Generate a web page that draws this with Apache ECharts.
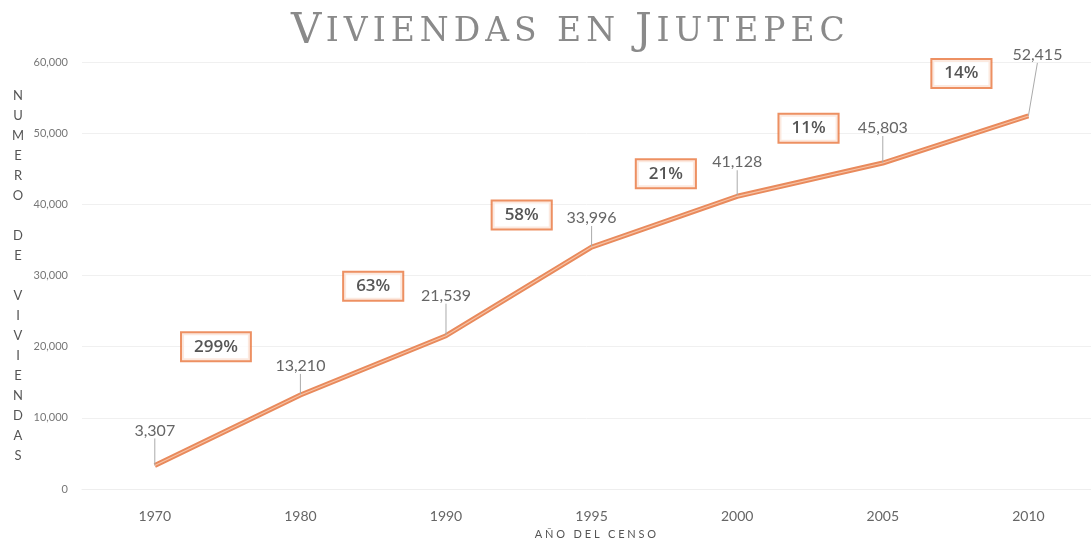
<!DOCTYPE html>
<html>
<head>
<meta charset="utf-8">
<script src="https://cdn.jsdelivr.net/npm/echarts@6/dist/echarts.min.js"></script>
<style>
  html, body { margin: 0; padding: 0; background: #fff; }
  #chart { width: 1091px; height: 545px; }
</style>
</head>
<body>
<div id="chart"></div>
<script>
var years = ['1970', '1980', '1990', '1995', '2000', '2005', '2010'];
var viviendas = [3307, 13210, 21539, 33996, 41128, 45803, 52415];

// growth boxes between censuses
var growthText = ['299%', '63%', '58%', '21%', '11%', '14%'];
var growthPos = [0.42, 1.5, 2.52, 3.51, 4.49, 5.54];
var growthHeight = [20000, 28500, 38500, 44300, 50700, 58400];

var yTicks = [0, 10000, 20000, 30000, 40000, 50000, 60000];

var titleText = 'VIVIENDAS EN JIUTEPEC';

var chart = echarts.init(document.getElementById('chart'));

var labelShift = [[0, -22], [0, -16], [0, -27], [0, -16], [0, -21], [0, -22], [9, -48]];

// small caps look: first letter of each word larger, letters spaced out
var titleRich = titleText.split('').map(function (c, i) {
    var big = (i === 0 || titleText[i - 1] === ' ') && c !== ' ' && c !== 'E';
    return '{' + (big ? 'a' : 'b') + '|' + c + '}';
}).join('');

var option = {
    backgroundColor: '#fff',
    title: {
        text: titleRich,
        left: 284,
        top: 6,
        textStyle: {
            rich: {
                a: { fontFamily: 'DejaVu Serif', fontSize: 42, fontWeight: 'normal', color: '#8a8a8a', padding: [0, 2, 0, 2] },
                b: { fontFamily: 'DejaVu Serif', fontSize: 33, fontWeight: 'normal', color: '#8a8a8a', padding: [0, 2.5, 0, 2.5] }
            }
        }
    },
    grid: { left: 82, right: 0, top: 62, bottom: 50 },
    xAxis: {
        type: 'value',
        min: -0.5,
        max: 6.43,
        name: 'A Ñ O   D E L   C E N S O',
        nameLocation: 'middle',
        nameGap: 40,
        nameTextStyle: { fontFamily: 'Lato', fontSize: 11, color: '#555', padding: [0, 0, 0, 18] },
        axisLine: { show: true, lineStyle: { color: '#eeeeee' } },
        axisTick: { show: false },
        splitLine: { show: false },
        axisLabel: {
            fontFamily: 'Lato', fontSize: 14, color: '#666', margin: 20,
            customValues: [0, 1, 2, 3, 4, 5, 6],
            formatter: function (v) { return years[Math.round(v)]; }
        }
    },
    yAxis: {
        type: 'value',
        min: 0,
        max: 60000,
        interval: 10000,
        name: 'N\nU\nM\nE\nR\nO\n \nD\nE\n \nV\nI\nV\nI\nE\nN\nD\nA\nS',
        nameLocation: 'middle',
        nameRotate: 0,
        nameGap: 64,
        nameTextStyle: { fontFamily: 'Lato', fontSize: 13, color: '#555', lineHeight: 20, align: 'center' },
        axisLine: { show: false },
        axisTick: { show: false },
        axisLabel: {
            fontFamily: 'Lato', fontSize: 11, color: '#777', margin: 14,
            formatter: function (v) { return yTicks.indexOf(v) >= 0 ? v.toLocaleString('en-US') : ''; }
        },
        splitLine: { lineStyle: { color: '#f0f0f0' } }
    },
    series: [
        {
            type: 'line',
            data: viviendas.map(function (v, i) { return [i, v]; }),
            symbol: 'circle',
            symbolSize: 0.1,
            showSymbol: true,
            itemStyle: { color: '#E98A5C' },
            lineStyle: { color: '#E98A5C', width: 5 },
            label: {
                show: true,
                position: 'top',
                fontFamily: 'Lato',
                fontSize: 16,
                color: '#666',
                formatter: function (p) { return p.value[1].toLocaleString('en-US'); }
            },
            labelLine: { show: true, lineStyle: { color: '#aaaaaa', width: 1 } },
            labelLayout: function (p) {
                var s = labelShift[p.dataIndex];
                return { dx: s[0], dy: s[1] };
            },
            z: 2
        },
        {
            type: 'line',
            data: viviendas.map(function (v, i) { return [i, v]; }),
            symbol: 'none',
            silent: true,
            lineStyle: { color: '#F6C3A6', width: 1.2 },
            z: 3
        },
        {
            type: 'scatter',
            symbolSize: 0,
            data: growthText.map(function (t, i) {
                return { name: t, value: [growthPos[i], growthHeight[i]] };
            }),
            label: {
                show: true,
                position: 'inside',
                formatter: '{b}',
                fontFamily: 'Open Sans',
                fontSize: 17,
                fontWeight: 600,
                color: '#2a2a2a',
                backgroundColor: '#fff',
                borderColor: '#E8743B',
                borderWidth: 2,
                padding: [5, 12, 5, 12]
            },
            z: 5
        }
    ]
};

chart.setOption(option);
</script>
</body>
</html>
